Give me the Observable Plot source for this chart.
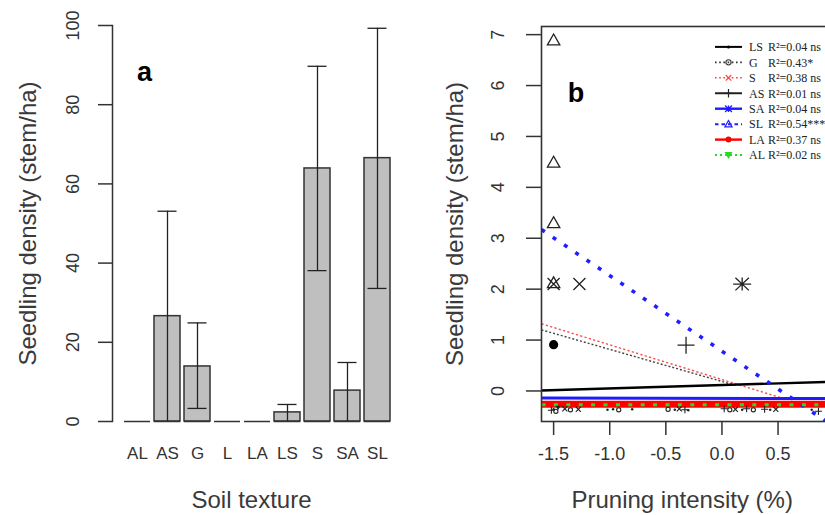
<!DOCTYPE html>
<html><head><meta charset="utf-8">
<script src="https://cdn.jsdelivr.net/npm/d3@7"></script>
<script src="https://cdn.jsdelivr.net/npm/@observablehq/plot@0.6"></script>
<style>
html,body{margin:0;padding:0;background:#fff;overflow:hidden}
#wrap{position:relative;width:825px;height:515px;overflow:hidden;background:#fff}
#wrap > svg{position:absolute;top:0}
</style></head><body><div id="wrap"></div>
<script>
// ---------- Panel a: seedling density by soil texture ----------
const soilTextures = ["AL","AS","G","L","LA","LS","S","SA","SL"];
const densityMean  = [0, 26.6, 13.9, 0, 0, 2.3, 63.9, 7.8, 66.5];
const densityLow   = [0, 0, 3.3, 0, 0, 0, 38.1, 0, 33.6];
const densityHigh  = [0, 53.1, 24.9, 0, 0, 4.3, 89.7, 14.9, 99.3];
const yTicksA = [0, 20, 40, 60, 80, 100];

// ---------- Panel b: seedling density vs pruning intensity ----------
const yTicksB = [0, 1, 2, 3, 4, 5, 6, 7];
const xTicksB = [-1.5, -1.0, -0.5, 0.0, 0.5, 1.0];
const xTickLabelsB = [-1.5, -1.0, -0.5, 0.0, 0.5]; // 1.0 falls outside the visible crop

// scattered observations (upper)
const ptX     = [-1.5, -1.5, -1.5, -1.5, -1.27, -1.5, 0.18, -0.32, -1.5];
const ptY     = [6.89, 4.49, 3.30, 2.12, 2.10, 2.10, 2.10, 0.90, 0.91];
const ptGroup = ["SL","SL","SL","SL","S","S","SA","AS","LA"];

// observations clustered near the bottom
const zeroX = [-1.52,-1.5,-1.48,-1.46,-1.4,-1.35,-1.28,-1.02,-0.97,-0.92,-0.8,-0.48,-0.42,-0.38,-0.33,-0.3,0.02,0.07,0.12,0.18,0.22,0.28,0.38,0.43,0.48,0.8,0.86];
const zeroY = [-0.38,-0.36,-0.40,-0.33,-0.35,-0.37,-0.36,-0.37,-0.36,-0.37,-0.36,-0.36,-0.37,-0.35,-0.37,-0.38,-0.35,-0.37,-0.36,-0.37,-0.35,-0.37,-0.36,-0.37,-0.36,-0.37,-0.40];
const zeroGroup = ["AS","LS","G","AL","S","G","S","LS","LS","G","LS","G","LS","S","AS","LS","AS","G","S","LS","AS","G","AS","LS","S","LS","AS"];

// fitted regression lines (end points)
const lineG  = [[-1.608, 1.20], [0.12, 0.11]];
const lineS  = [[-1.608, 1.32], [0.52, -0.13]];
const lineLS = [[-1.608, 0.01], [1.06, 0.186]];
const lineAS = [[-1.608, -0.27], [1.06, -0.27]];
const lineSA = [[-1.608, -0.14], [1.06, -0.15]];
const lineSL = [[-1.608, 3.17], [0.93, -0.60]];
const lineLA = [[-1.608, -0.26], [1.06, -0.26]];
const lineAL = [[-1.608, -0.27], [1.06, -0.27]];

const legendGroups = ["LS","G","S","AS","SA","SL","LA","AL"];
const legendStats  = ["R²=0.04 ns","R²=0.43*","R²=0.38 ns","R²=0.01 ns","R²=0.04 ns","R²=0.54***","R²=0.37 ns","R²=0.02 ns"];

// ---------- styling ----------
const W = 825, H = 515;
const font = "'Liberation Sans', Arial, sans-serif";
const ink = "#333";

function makeSymbol(fn){ return {draw(ctx, size){ const r = Math.sqrt(size/Math.PI); fn(ctx, r); }}; }
const symTriangle = makeSymbol((c,r)=>{c.moveTo(0,-r); c.lineTo(r,0.75*r); c.lineTo(-r,0.75*r); c.closePath();});
const symInvTriangle = makeSymbol((c,r)=>{c.moveTo(0,r); c.lineTo(r,-0.75*r); c.lineTo(-r,-0.75*r); c.closePath();});
const symTimes = makeSymbol((c,r)=>{c.moveTo(-r,-r); c.lineTo(r,r); c.moveTo(-r,r); c.lineTo(r,-r);});
const symPlus = makeSymbol((c,r)=>{c.moveTo(-r,0); c.lineTo(r,0); c.moveTo(0,-r); c.lineTo(0,r);});
const symAsterisk = makeSymbol((c,r)=>{c.moveTo(-r,0); c.lineTo(r,0); c.moveTo(0,-0.72*r); c.lineTo(0,0.72*r);
  c.moveTo(-0.75*r,-0.7*r); c.lineTo(0.75*r,0.7*r); c.moveTo(-0.75*r,0.7*r); c.lineTo(0.75*r,-0.7*r);});
const symCircle = makeSymbol((c,r)=>{c.moveTo(r,0); c.arc(0,0,r,0,2*Math.PI);});

const pointStyle = {
  SL: {sym: symTriangle, r: 6.2, filled: false},
  S:  {sym: symTimes, r: 6, filled: false},
  SA: {sym: symAsterisk, r: 9, filled: false},
  AS: {sym: symPlus, r: 8.5, filled: false},
  LA: {sym: symCircle, r: 4.6, filled: true},
  LS: {sym: symCircle, r: 3, filled: true},
  G:  {sym: symCircle, r: 5, filled: false},
  AL: {sym: symInvTriangle, r: 6, filled: true}
};
const lineStyle = {
  G:  {stroke: "#444", w: 1.4, dash: "2,2"},
  S:  {stroke: "#ff4a4a", w: 1.4, dash: "2.2,2.3"},
  LS: {stroke: "#000", w: 2.4, dash: null},
  AS: {stroke: "#000", w: 1.5, dash: null},
  SA: {stroke: "#1c1cff", w: 3, dash: null},
  LA: {stroke: "#ff0000", w: 7, dash: null},
  SL: {stroke: "#1f1fff", w: 3.6, dash: "4,9.6"},
  AL: {stroke: "#22dd22", w: 3, dash: "4,8.4"}
};
const legendStyle = {
  LS: {stroke:"#000", w:2, dash:null, sym:symCircle, r:1.5, fill:"#000", sw:0},
  G:  {stroke:"#333", w:1.6, dash:"1.6,2.6", sym:symCircle, r:2.6, fill:"none", sw:1.1},
  S:  {stroke:"#ff4040", w:1.6, dash:"1.6,2.6", sym:symTimes, r:2.8, fill:"none", sw:1.1},
  AS: {stroke:"#222", w:2, dash:null, sym:symPlus, r:4.2, fill:"none", sw:1.2},
  SA: {stroke:"#1c1cff", w:2.4, dash:null, sym:symAsterisk, r:4.6, fill:"none", sw:1.3},
  SL: {stroke:"#1f1fff", w:2, dash:"3.5,3", sym:symTriangle, r:3.6, fill:"none", sw:1.2},
  LA: {stroke:"#ff0000", w:2.4, dash:null, sym:symCircle, r:3, fill:"#ff0000", sw:0},
  AL: {stroke:"#22dd22", w:2, dash:"2,3", sym:symInvTriangle, r:4, fill:"#22dd22", sw:0}
};

const wrap = document.getElementById("wrap");
const centered = {textAnchor: "middle", lineAnchor: "middle"};

// ---------- Panel a ----------
const barData = soilTextures.map((t,i)=>({texture:t, mean:densityMean[i], lo:densityLow[i], hi:densityHigh[i]}));
const errData = barData.filter(d => d.hi > 0);
const plotA = Plot.plot({
  width: 420, height: H,
  marginLeft: 112, marginRight: 26, marginTop: 25, marginBottom: 94,
  style: {fontFamily: font, background: "transparent", overflow: "visible"},
  x: {domain: soilTextures, padding: 0.12, insetLeft: 7.4, axis: null},
  y: {domain: [0, 100], axis: null},
  marks: [
    Plot.rectY(barData, {x: "texture", y: "mean", fill: "#bfbfbf", stroke: ink, strokeWidth: 1.5}),
    Plot.tickY(barData, {x: "texture", y: 0, stroke: ink, strokeWidth: 1.5}),
    Plot.ruleX(errData, {x: "texture", y1: "lo", y2: "hi", stroke: "#222", strokeWidth: 1.3}),
    Plot.tickY(errData, {x: "texture", y: "hi", insetLeft: 3.5, insetRight: 3.5, stroke: "#222", strokeWidth: 1.3}),
    Plot.tickY(errData.filter(d => d.lo > 0), {x: "texture", y: "lo", insetLeft: 3.5, insetRight: 3.5, stroke: "#222", strokeWidth: 1.3}),
    Plot.frame({anchor: "left", stroke: ink, strokeWidth: 1.5}),
    Plot.axisY(yTicksA, {tickSize: 14, fill: "none", stroke: ink, strokeWidth: 1.5, label: null}),
    Plot.text(yTicksA, {y: d => d, text: d => String(d), frameAnchor: "left", dx: -39, rotate: -90, fontSize: 18, fill: ink, ...centered}),
    Plot.text(soilTextures, {x: d => d, text: d => d, frameAnchor: "bottom", dy: 32, fontSize: 17, fill: ink, ...centered}),
    Plot.text(["Soil texture"], {frameAnchor: "bottom", dx: -2, dy: 79, fontSize: 24, fill: "#3a3a3a", ...centered}),
    Plot.text(["Seedling density (stem/ha)"], {frameAnchor: "left", dx: -84.5, rotate: -90, fontSize: 24, fill: "#3a3a3a", ...centered}),
    Plot.text(["a"], {frameAnchor: "top-left", dx: 32, dy: 47, fontSize: 27, fontWeight: "bold", fill: "#000", ...centered})
  ]
});
plotA.style.left = "0px";
wrap.appendChild(plotA);

// ---------- Panel b ----------
const mainPts = ptX.map((x,i)=>({x, y: ptY[i], g: ptGroup[i]}));
const zeroPts = zeroX.map((x,i)=>({x, y: zeroY[i], g: zeroGroup[i]}));
const lineOrder = [["G",lineG],["S",lineS],["LS",lineLS],["AS",lineAS],["SA",lineSA],["LA",lineLA],["SL",lineSL],["AL",lineAL]];
const lineMarks = lineOrder.map(([g, pts]) => Plot.line(pts, {
  stroke: lineStyle[g].stroke, strokeWidth: lineStyle[g].w,
  strokeDasharray: lineStyle[g].dash || undefined, strokeLinecap: "butt", clip: true
}));
const groupsAll = Object.keys(pointStyle);
const zeroMarks = groupsAll.map(g => Plot.dot(zeroPts.filter(d => d.g === g), {
  x: "x", y: "y", symbol: pointStyle[g].sym, r: pointStyle[g].r * 0.42,
  fill: pointStyle[g].filled ? "#222" : "none", stroke: pointStyle[g].filled ? "none" : "#222", strokeWidth: 1.1
}));
const mainMarks = groupsAll.map(g => Plot.dot(mainPts.filter(d => d.g === g), {
  x: "x", y: "y", symbol: pointStyle[g].sym, r: pointStyle[g].r,
  fill: pointStyle[g].filled ? "#000" : "none", stroke: pointStyle[g].filled ? "none" : "#222", strokeWidth: 1.3
}));

const plotB = Plot.plot({
  width: 440, height: H,
  marginLeft: 121, marginRight: 19.6, marginTop: 26, marginBottom: 94,
  style: {fontFamily: font, background: "transparent", overflow: "visible"},
  x: {domain: [-1.608, 1.06], axis: null},
  y: {domain: [-0.6, 7.16], axis: null},
  marks: [
    ...lineMarks,
    ...zeroMarks,
    ...mainMarks,
    Plot.frame({stroke: ink, strokeWidth: 1.6}),
    Plot.axisY(yTicksB, {tickSize: 15, fill: "none", stroke: ink, strokeWidth: 1.5, label: null}),
    Plot.axisX(xTicksB, {tickSize: 14, fill: "none", stroke: ink, strokeWidth: 1.5, label: null}),
    Plot.text(yTicksB, {y: d => d, text: d => String(d), frameAnchor: "left", dx: -43.3, rotate: -90, fontSize: 18, fill: ink, ...centered}),
    Plot.text(xTickLabelsB, {x: d => d, text: d => d.toFixed(1), frameAnchor: "bottom", dy: 33, fontSize: 18, fill: ink, ...centered}),
    Plot.text(["Pruning intensity (%)"], {frameAnchor: "bottom", dx: -9, dy: 79, fontSize: 24, fill: "#3a3a3a", ...centered}),
    Plot.text(["Seedling density (stem/ha)"], {frameAnchor: "left", dx: -86, rotate: -90, fontSize: 24, fill: "#3a3a3a", ...centered}),
    Plot.text(["b"], {frameAnchor: "top-left", dx: 34.5, dy: 67, fontSize: 27, fontWeight: "bold", fill: "#000", ...centered})
  ]
});
plotB.style.left = "420px";
wrap.appendChild(plotB);

// ---------- legend of panel b ----------
const leg = d3.create("svg").attr("width", W).attr("height", H).style("left", "0px").style("pointer-events", "none");
legendGroups.forEach((g, i) => {
  const y = 46.9 + i * 15.45;
  const s = legendStyle[g];
  leg.append("line").attr("x1", 715).attr("x2", 742).attr("y1", y).attr("y2", y)
    .attr("stroke", s.stroke).attr("stroke-width", s.w).attr("stroke-dasharray", s.dash);
  const p = d3.path(); s.sym.draw(p, Math.PI * s.r * s.r);
  leg.append("path").attr("d", p.toString()).attr("transform", `translate(728.5,${y})`)
    .attr("fill", s.fill).attr("stroke", s.sw ? s.stroke : "none").attr("stroke-width", s.sw);
  leg.append("text").attr("x", 749).attr("y", y).attr("dy", "0.36em").text(g)
    .attr("font-family", "'Liberation Serif', 'DejaVu Serif', serif").attr("font-size", 12).attr("fill", "#222");
  leg.append("text").attr("x", 768).attr("y", y).attr("dy", "0.36em").text(legendStats[i])
    .attr("font-family", "'Liberation Serif', 'DejaVu Serif', serif").attr("font-size", 12).attr("fill", "#222");
});
wrap.appendChild(leg.node());
</script>
</body></html>
